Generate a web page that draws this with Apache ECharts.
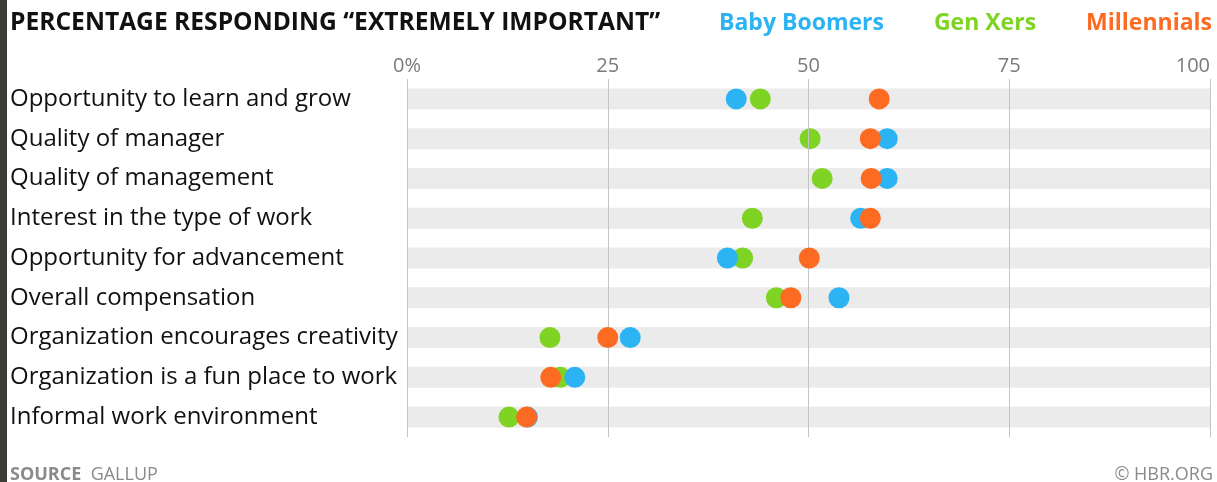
<!DOCTYPE html>
<html><head><meta charset="utf-8">
<script src="https://cdn.jsdelivr.net/npm/echarts@6/dist/echarts.min.js"></script>
<style>html,body{margin:0;padding:0;background:#fff;}#c{width:1217px;height:482px;}</style>
</head><body><div id="c"></div>
<script>
const categories = [
  "Opportunity to learn and grow",
  "Quality of manager",
  "Quality of management",
  "Interest in the type of work",
  "Opportunity for advancement",
  "Overall compensation",
  "Organization encourages creativity",
  "Organization is a fun place to work",
  "Informal work environment"
];
const babyBoomers = [41, 59.8, 59.8, 56.5, 39.9, 53.8, 27.8, 20.9, 15];
const genXers     = [44, 50.2, 51.7, 43, 41.8, 46, 17.8, 19.1, 12.7];
const millennials = [58.8, 57.7, 57.8, 57.7, 50.1, 47.8, 25, 17.9, 14.9];
const tickValues = [0, 25, 50, 75, 100];
const seriesNames = ["Baby Boomers", "Gen Xers", "Millennials"];
const colors = {"Baby Boomers": "#2bb3f3", "Gen Xers": "#7fd323", "Millennials": "#fd6a21"};

const chart = echarts.init(document.getElementById('c'), null, {renderer: 'canvas'});
const labelFont = 'Open Sans';
const headFont = 'Open Sans';

function dots(name, values, z) {
  return {
    name: name, type: 'scatter', z: z,
    symbol: 'circle', symbolSize: 21,
    itemStyle: {color: colors[name], opacity: 1},
    data: values.map((v, i) => [v, categories[i]]),
    silent: true
  };
}

chart.setOption({
  animation: false,
  backgroundColor: '#fff',
  title: {
    text: 'PERCENTAGE RESPONDING \u201CEXTREMELY IMPORTANT\u201D',
    left: 5, top: 5,
    textStyle: {fontFamily: headFont, fontWeight: 'bold', fontSize: 24.6, color: '#111'}
  },
  legend: {
    right: 0, top: 7,
    icon: 'none', itemWidth: 0, itemHeight: 0, itemGap: 45,
    data: seriesNames.map(n => ({name: n, textStyle: {color: colors[n]}})),
    textStyle: {fontFamily: headFont, fontWeight: 'bold', fontSize: 23, padding: 0},
    selectedMode: false
  },
  grid: {left: 407, right: 7, top: 79, bottom: 45, containLabel: false},
  xAxis: {
    type: 'value', position: 'top', min: 0, max: 100, interval: 25,
    axisLine: {show: false}, axisTick: {show: false},
    splitLine: {show: false},
    axisLabel: {
      margin: 3, color: '#7a7a7a', fontFamily: labelFont, fontSize: 20,
      alignMaxLabel: 'right',
      formatter: v => tickValues.indexOf(v) === 0 ? v + '%' : String(v)
    }
  },
  yAxis: {
    type: 'category', data: categories, inverse: true,
    axisLine: {show: false}, axisTick: {show: false}, splitLine: {show: false},
    axisLabel: {
      margin: 397, align: 'left', color: '#111', fontFamily: labelFont, fontSize: 24,
      padding: [8, 0, 0, 0]
    }
  },
  graphic: [
    {type: 'rect', left: 0, top: 0, shape: {width: 7, height: 482}, style: {fill: '#3d3c33'}},
    {type: 'text', left: 10, top: 466, style: {
      text: '{b|SOURCE}  GALLUP',
      rich: {b: {fontWeight: 'bold', fontFamily: headFont, fontSize: 18, fill: '#8a8a8a'}},
      font: '18px "Open Sans"', fill: '#8a8a8a'
    }},
    {type: 'text', right: 4, top: 466, style: {text: '\u00A9 HBR.ORG', font: '18px "Open Sans"', fill: '#8a8a8a'}}
  ],
  series: [
    {
      type: 'bar', z: 1, silent: true, barWidth: 21,
      itemStyle: {color: '#ebebeb'},
      data: categories.map(() => 100),
      markLine: {
        silent: true, symbol: 'none', label: {show: false},
        lineStyle: {color: '#c4c4c4', type: 'solid', width: 1},
        data: tickValues.map(v => ({xAxis: v}))
      }
    },
    dots('Gen Xers', genXers, 3),
    dots('Baby Boomers', babyBoomers, 4),
    dots('Millennials', millennials, 5)
  ]
});
</script></body></html>
